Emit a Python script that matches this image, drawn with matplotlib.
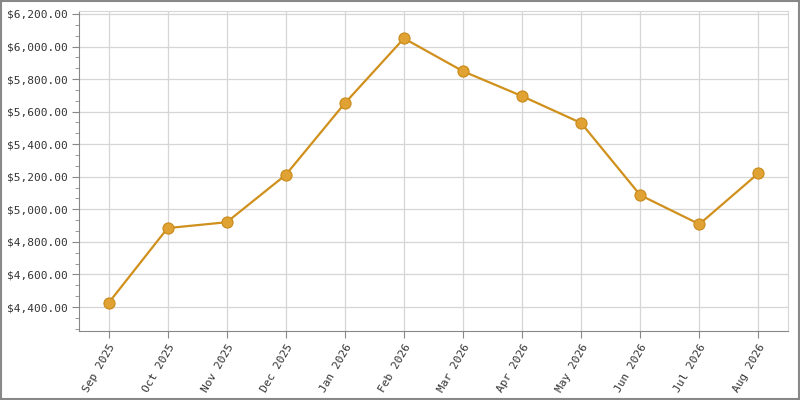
import matplotlib
matplotlib.use('Agg')
import matplotlib.pyplot as plt
from matplotlib.ticker import MultipleLocator, FuncFormatter

# monthly values
months = ['Sep 2025', 'Oct 2025', 'Nov 2025', 'Dec 2025', 'Jan 2026', 'Feb 2026',
          'Mar 2026', 'Apr 2026', 'May 2026', 'Jun 2026', 'Jul 2026', 'Aug 2026']
values = [4425, 4885, 4921, 5212, 5652, 6050, 5848, 5695, 5530, 5087, 4909, 5222]

plt.rcParams['font.family'] = 'DejaVu Sans Mono'
plt.rcParams['font.size'] = 8

fig = plt.figure(figsize=(8, 4), dpi=100)
ax = fig.add_axes([79 / 800, 1 - 331 / 400, 709 / 800, 320 / 400])

x = list(range(len(months)))
ax.plot(x, values, color='#d0901c', linewidth=1.6, marker='o', markersize=8,
        markerfacecolor='#e0a232', markeredgecolor='#c98a1a', markeredgewidth=0.8, zorder=3)

ax.set_xlim(-0.5, 11.5)
ax.set_ylim(4253, 6218)
ax.set_xticks(x)
ax.set_xticklabels(months, rotation=60, ha='right', rotation_mode='anchor', color='#333333')
ax.yaxis.set_major_locator(MultipleLocator(200))
ax.yaxis.set_minor_locator(MultipleLocator(200 / 3))
ax.yaxis.set_major_formatter(FuncFormatter(lambda v, p: '${:,.2f}'.format(v)))
ax.tick_params(axis='y', which='major', length=5, color='#888888', labelcolor='#333333', pad=3)
ax.tick_params(axis='y', which='minor', length=3, color='#888888')
ax.tick_params(axis='x', length=5, color='#888888', pad=3)

ax.grid(True, which='major', color='#d6d6d6', linewidth=0.9)
ax.set_axisbelow(True)
for side in ['left', 'bottom']:
    ax.spines[side].set_color('#888888')
for side in ['top', 'right']:
    ax.spines[side].set_color('#d6d6d6')

fig.patches.append(plt.Rectangle((0.0008, 0.0015), 0.998, 0.997, transform=fig.transFigure,
                                 fill=False, edgecolor='#888888', linewidth=1.5))

fig.savefig('out.png', dpi=100)
